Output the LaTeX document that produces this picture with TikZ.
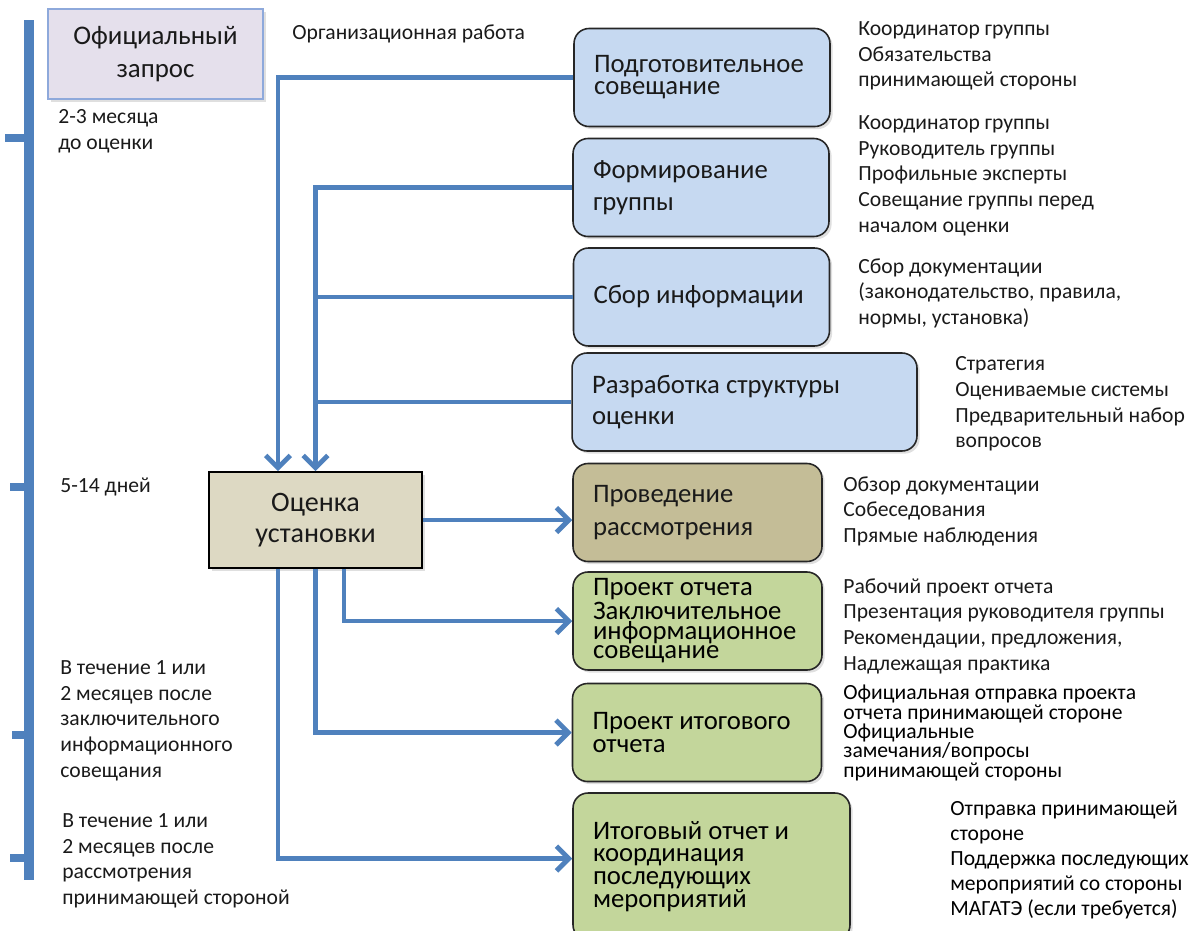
\documentclass[tikz,border=0pt]{standalone}
\usepackage{fontspec}
\setmainfont{Carlito}
\usetikzlibrary{arrows.meta, positioning, shadows}
\definecolor{lineBlue}{HTML}{4F81BD}
\definecolor{reqFill}{HTML}{E5E0EC}
\definecolor{reqDraw}{HTML}{8EA9DB}
\definecolor{boxBlue}{HTML}{C6D9F1}
\definecolor{boxTan}{HTML}{C4BD97}
\definecolor{boxGreen}{HTML}{C3D69B}
\definecolor{evalFill}{HTML}{DDD9C3}
\definecolor{textDark}{HTML}{1A1A1A}

\begin{document}
\begin{tikzpicture}[x=0.02cm, y=-0.02cm,
    box/.style={rectangle, rounded corners=8.5pt, draw=black!85, line width=0.9pt, fill=#1,
                text width=4.32cm, minimum height=1.96cm, inner xsep=0.4cm, align=flush left,
                font=\fontsize{15.2}{12.5}\selectfont\color{textDark},
                drop shadow={opacity=0.25, shadow xshift=1.5pt, shadow yshift=-1.5pt}},
    plainbox/.style={rectangle, line width=0.9pt, fill=#1, align=center,
                font=\fontsize{16}{18}\selectfont\color{textDark},
                drop shadow={opacity=0.25, shadow xshift=1.5pt, shadow yshift=-1.5pt}},
    note/.style={anchor=north west, inner sep=0pt, align=flush left,
                font=\fontsize{12.3}{14.7}\selectfont\color{textDark}},
    link/.style={draw=lineBlue, line width=2.8pt},
    arr/.style={-{Straight Barb[length=7pt, width=14pt]}},
    axis/.style={draw=lineBlue, line width=#1},
  ]
    \useasboundingbox (0,0) rectangle (1193,930);

    % time axis
    \draw[axis=5.8pt] (29,20) -- (29,880);
    \draw[axis=4.3pt] (5,138) -- (29,138);
    \draw[axis=4.3pt] (10,487) -- (29,487);
    \draw[axis=4.3pt] (12,735) -- (29,735);
    \draw[axis=4.3pt] (10,858) -- (29,858);

    \node[plainbox=reqFill, draw=reqDraw, minimum width=4.3cm, minimum height=1.8cm,
          font=\fontsize{15.3}{18.7}\selectfont\color{textDark}]
      (req) at (155.5,54) {Официальный\\запрос};
    \node[plainbox=evalFill, draw=black, minimum width=4.26cm, minimum height=1.92cm]
      (eval) at (315.5,520) {Оценка\\установки};

    \node[box=boxBlue] (prep) at (702,77.5) {Подготовительное\\совещание};
    \node[box=boxBlue] (team) at (701,187.5) {Формирование\\[6pt]группы};
    \node[box=boxBlue] (info) at (701.5,297) {Сбор информации};
    \node[box=boxBlue, text width=6.1cm] (struct) at (744.5,402)
      {Разработка структуры\\[5.5pt]оценки};
    \node[box=boxTan, text width=4.18cm] (review) at (697.5,512.5)
      {Проведение\\[6.5pt]рассмотрения};
    \node[box=boxGreen, text width=4.18cm, font=\fontsize{15.2}{11.3}\selectfont] (draft)
      at (697.5,621) {Проект отчета\\Заключительное\\информационное\\совещание};
    \node[box=boxGreen, text width=4.18cm, font=\fontsize{15.2}{13.6}\selectfont] (finaldraft)
      at (697,732.5) {Проект итогового\\отчета};
    \node[box=boxGreen, text width=4.74cm, minimum height=2.94cm,
          font=\fontsize{15.2}{13}\selectfont] (followup) at (711.5,866.5)
      {Итоговый отчет и\\координация\\последующих\\мероприятий};

    % notes
    \node[note] (orgwork) at (292,24) {Организационная работа};
    \node[note] (before) at (58,109) {2-3 месяца\\до оценки};
    \node[note] (days) at (60,478) {5-14 дней};
    \node[note] (after1) at (60,660)
      {В течение 1 или\\2 месяцев после\\заключительного\\информационного\\совещания};
    \node[note] (after2) at (62,813)
      {В течение 1 или\\2 месяцев после\\рассмотрения\\принимающей стороной};

    \node[note] (n1) at (858,21) {Координатор группы\\Обязательства\\принимающей стороны};
    \node[note] (n2) at (858,115) {Координатор группы\\Руководитель группы\\Профильные эксперты\\Совещание группы перед\\началом оценки};
    \node[note] (n3) at (858,258) {Сбор документации\\(законодательство, правила,\\нормы, установка)};
    \node[note] (n4) at (955,356) {Стратегия\\Оцениваемые системы\\Предварительный набор\\вопросов};
    \node[note] (n5) at (843,476) {Обзор документации\\Собеседования\\Прямые наблюдения};
    \node[note] (n6) at (843,578) {Рабочий проект отчета\\Презентация руководителя группы\\Рекомендации, предложения,\\Надлежащая практика};
    \node[note, font=\fontsize{12.3}{11}\selectfont] (n7) at (843,685)
      {Официальная отправка проекта\\отчета принимающей стороне\\Официальные\\замечания/вопросы\\принимающей стороны};
    \node[note, font=\fontsize{12.3}{14.2}\selectfont] (n8) at (950,801)
      {Отправка принимающей\\стороне\\Поддержка последующих\\мероприятий со стороны\\МАГАТЭ (если требуется)};

    % connectors
    \draw[link, arr] (prep.west) -| ([xshift=-0.75cm]eval.north);
    \draw[link, arr] (team.west) -| (eval.north);
    \draw[link] (info.west) -- (info.west -| eval.north);
    \draw[link] (struct.west) -- (struct.west -| eval.north);
    \draw[link, arr] (eval.east) -- (eval.east -| review.west);
    \draw[link, arr] ([xshift=0.57cm]eval.south) |- (draft.west);
    \draw[link, arr] (eval.south) |- (finaldraft.west);
    \draw[link, arr] ([xshift=-0.75cm]eval.south) |- ([yshift=0.16cm]followup.west);
\end{tikzpicture}
\end{document}
